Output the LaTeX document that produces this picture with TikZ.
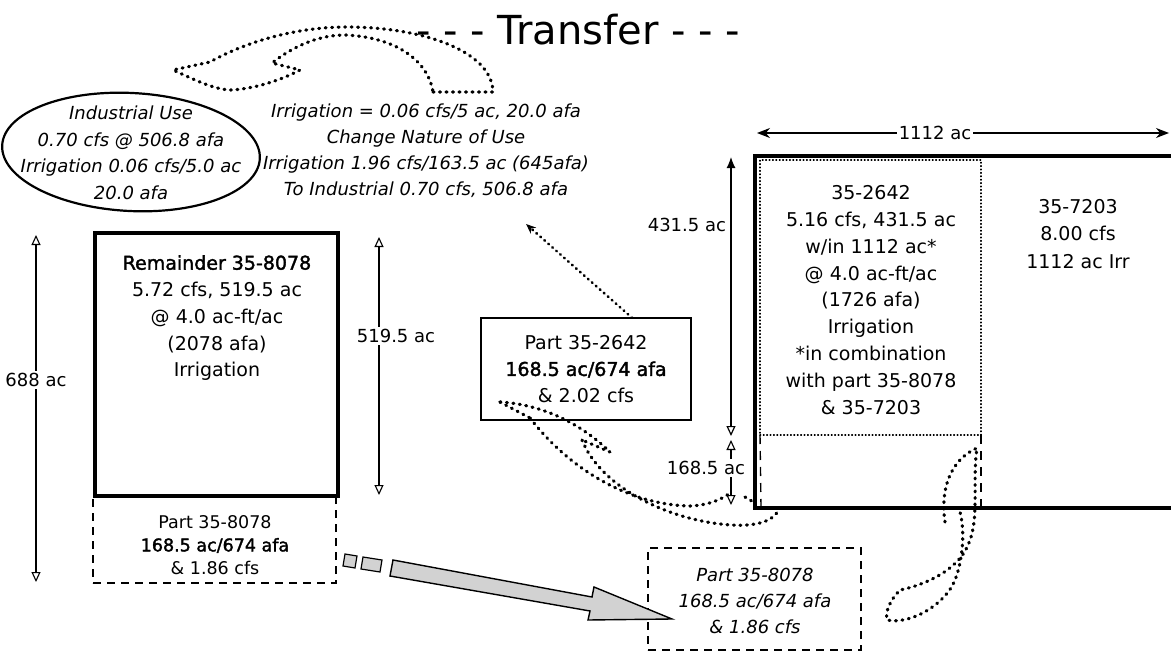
\documentclass[tikz,border=0pt]{standalone}
\usepackage{fontspec}
\setmainfont{DejaVu Sans}[BoldFont={DejaVu Sans},BoldFeatures={FakeBold=1.8}]
\usetikzlibrary{arrows.meta,shapes.geometric,calc}
\begin{document}
\begin{tikzpicture}[x=1pt,y=-1pt,
  every node/.style={inner sep=0pt,outer sep=0pt},
  up/.style={font=\fontsize{19}{26.8}\selectfont,align=center},
  upsm/.style={font=\fontsize{17.5}{23}\selectfont,align=center},
  itx/.style={font=\fontsize{18}{26}\selectfont\itshape,align=center},
  lblw/.style={fill=white,inner sep=2pt,font=\fontsize{18}{20}\selectfont},
  lbl/.style={inner sep=1pt,font=\fontsize{18}{20}\selectfont},
  dots/.style={line width=3.2pt,dash pattern=on 0.9pt off 5.6pt,line cap=round},
  finedots/.style={line width=1.6pt,dash pattern=on 0.6pt off 2.8pt,line cap=round},
  dashbox/.style={draw,line width=1.4pt,dash pattern=on 8pt off 6pt},
  dimopen/.style={line width=1.1pt,{Triangle[open,length=10pt,width=9pt]}-{Triangle[open,length=10pt,width=9pt]}},
]
\fill[white] (0,0) rectangle (1171,661);
\path[use as bounding box] (0,0) rectangle (1171,661);

% title
\node[font=\fontsize{40}{44}\selectfont] (title) at (578,30) {- - - Transfer - - -};

% ellipse
\node[draw,ellipse,line width=2.2pt,minimum width=258pt,minimum height=118pt,rotate=-3] (ell) at (131,152) {};
\node[itx,font=\fontsize{18}{26.5}\selectfont\itshape] (elltxt) at (131,153)
  {Industrial Use\\0.70 cfs @ 506.8 afa\\Irrigation 0.06 cfs/5.0 ac\\20.0 afa};

% change of use text
\node[itx] (chg) at (426,151)
  {Irrigation = 0.06 cfs/5 ac, 20.0 afa\\Change Nature of Use\\Irrigation 1.96 cfs/163.5 ac (645afa)\\To Industrial 0.70 cfs, 506.8 afa};

% top dotted curved arrow
\draw[dots] (433,92) -- (493,92) .. controls (492,50) and (420,27) .. (347,27)
  .. controls (290,27) and (240,45) .. (210,62) -- (173,70)
  .. controls (195,80) and (215,90) .. (232,90)
  .. controls (260,88) and (285,78) .. (300,70) -- (272,63)
  .. controls (295,45) and (320,35) .. (345,35)
  .. controls (395,37) and (428,60) .. (433,92);

% lower part of 35-8078 (dashed)
\node[dashbox,minimum width=243pt,minimum height=86pt,anchor=north west] (p8078) at (93,497) {};
\node[upsm] (p8078txt) at (215,545) {Part 35-8078\\\bfseries 168.5 ac/674 afa\\\& 1.86 cfs};

% remainder box
\node[draw,line width=3.2pt,minimum width=243pt,minimum height=263pt,anchor=north west] (rem) at (95,233) {};
\node[up] (remtxt) at (217,318) {\bfseries Remainder 35-8078\\5.72 cfs, 519.5 ac\\@ 4.0 ac-ft/ac\\(2078 afa)\\Irrigation};

% 688 ac dimension
\coordinate (d688t) at (36,235);
\coordinate (d688b) at (36,582);
\draw[dimopen] (d688t) -- (d688b);
\node[lblw] (l688) at (36,380) {688 ac};

% 519.5 ac dimension
\coordinate (d519t) at (379,237);
\coordinate (d519b) at (379,495);
\draw[dimopen] (d519t) -- (d519b);
\node[lblw] (l519) at (396,336) {519.5 ac};

% part 35-2642 box
\node[draw,line width=1.4pt,minimum width=210pt,minimum height=102pt] (p2642) at (586,369) {};
\node[up] (p2642txt) at (586,369) {Part 35-2642\\\bfseries 168.5 ac/674 afa\\\& 2.02 cfs};
\coordinate (ptrtip) at (526,224);
\draw[line width=2.6pt,dash pattern=on 0.8pt off 4.5pt,line cap=round,-{Stealth[length=10pt,width=8pt]}]
  ($(p2642.north west)!0.72!(p2642.north east)$) -- (ptrtip);

% right big field
\coordinate (rbtl) at (755,156);
\coordinate (rbbl) at (755,508);
\coordinate (rbtr) at (1171,156);
\coordinate (rbbr) at (1171,508);
\node[draw,finedots,minimum width=221pt,minimum height=275pt,anchor=north west] (w2642) at (760,160) {};
\draw[dashbox,dash pattern=on 9pt off 7pt] (w2642.south west) -- (761,506);
\draw[dashbox,dash pattern=on 9pt off 7pt] (w2642.south east) -- (981,506);
\draw[line width=3.4pt] (rbtr) -- (rbtl) -- (rbbl) -- (rbbr);
\node[up] (w2642txt) at (871,300) {35-2642\\5.16 cfs, 431.5 ac\\w/in 1112 ac*\\@ 4.0 ac-ft/ac\\(1726 afa)\\Irrigation\\*in combination\\with part 35-8078\\\& 35-7203};
\node[up,font=\fontsize{19}{27.5}\selectfont] (t7203) at (1078,234) {35-7203\\8.00 cfs\\1112 ac Irr};

% 1112 ac dimension
\coordinate (d1112l) at (757,133);
\coordinate (d1112r) at (1169,133);
\draw[line width=1.3pt,{Stealth[length=13pt,width=10pt]}-{Stealth[length=13pt,width=10pt]}] (d1112l) -- (d1112r);
\node[lblw] (l1112) at (935,133) {1112 ac};

% 431.5 ac dimension
\coordinate (d431t) at (731,157);
\coordinate (d431b) at (731,436);
\draw[line width=1.2pt,{Latex[length=11pt,width=9pt]}-{Triangle[open,length=10pt,width=9pt]}] (d431t) -- (d431b);
\node[lbl,anchor=east] (l431) at (727,225) {431.5 ac};

% 168.5 ac dimension
\coordinate (d168t) at (731,440);
\coordinate (d168b) at (731,505);
\draw[dimopen] (d168t) -- (d168b);
\node[lblw] (l168) at (706,468) {168.5 ac};

% dotted curved arrow (field to part 35-2642)
\draw[dots] (500,402) .. controls (535,404) and (575,418) .. (610,452) -- (582,440);
\draw[dots] (500,402) -- (530,418);
\draw[dots] (530,418) .. controls (570,470) and (630,505) .. (690,506)
  .. controls (710,505) and (722,499) .. (730,493);
\draw[dots] (745,497) -- (755,503);
\draw[dots] (582,440) .. controls (600,485) and (660,515) .. (713,523)
  .. controls (745,528) and (770,525) .. (778,511);

% bottom-right dotted loop
\draw[dots] (945,522) .. controls (940,490) and (950,460) .. (977,448)
  .. controls (972,480) and (980,520) .. (968,545)
  .. controls (958,570) and (925,585) .. (900,590)
  .. controls (890,600) and (885,612) .. (887,620)
  .. controls (910,625) and (945,605) .. (955,580)
  .. controls (963,560) and (965,530) .. (960,512);

% destination box
\node[dashbox,minimum width=213pt,minimum height=102pt,anchor=north west] (q8078) at (648,548) {};
\node[itx,font=\fontsize{18}{26}\selectfont\itshape] (q8078txt) at (755,601) {Part 35-8078\\168.5 ac/674 afa\\\& 1.86 cfs};

% big transfer arrow
\draw[line width=1.2pt,fill=gray!35] (345,554) -- (357,556) -- (355,568) -- (343,566) -- cycle;
\draw[line width=1.2pt,fill=gray!35] (363,557) -- (382,560) -- (380,572) -- (361,569) -- cycle;
\draw[line width=1.4pt,fill=gray!35] (393,560) -- (592,597) -- (594,587) -- (672,619)
  -- (588,620) -- (590,611) -- (390,576) -- cycle;
\end{tikzpicture}
\end{document}
